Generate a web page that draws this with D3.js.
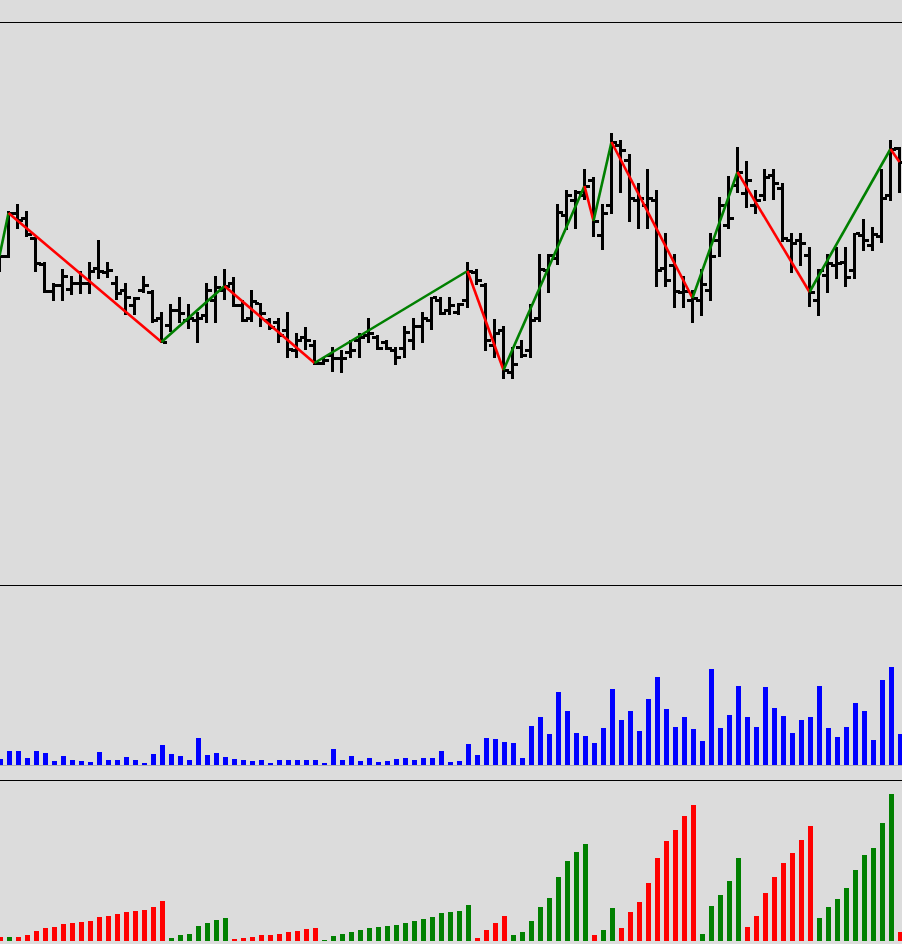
<!DOCTYPE html>
<html>
<head>
<meta charset="utf-8">
<script src="https://cdn.jsdelivr.net/npm/d3@7"></script>
<style>
  html, body { margin: 0; padding: 0; background: #dcdcdc; overflow: hidden; }
  svg { display: block; }
</style>
</head>
<body>
<div id="chart"></div>
<script>
// OHLC prices, one entry per bar (101 bars on screen)
const opens = [317,329,372,367,347,321,294,300,296,302, 302,317,313,302,295,280,295,293,267,260,
               275,265,265,270,285,295,302,280,267,282, 265,263,255,235,248,240,222,230,227,233,
               245,250,248,243,235,237,245,259,265,285, 275,273,285,313,300,240,255,213,238,235,
               267,315,327,370,385,390,405,350,380,440, 425,385,380,385,317,320,293,285,285,295,
               345,360,400,392,380,390,410,397,345,345, 330,285,310,320,323,315,350,340,349,390, 437];
const highs = [330,374,381,374,348,323,302,316,309,314, 323,345,323,309,302,288,309,295,273,281,
               288,281,273,302,309,316,308,285,295,282, 267,267,273,252,258,245,228,238,235,245,
               252,267,250,245,238,259,267,273,288,288, 288,282,323,316,302,266,259,238,245,281,
               331,331,381,395,395,416,408,381,452,445, 431,402,416,395,352,331,309,295,316,352,
               388,409,438,424,395,416,416,402,352,352, 338,316,331,338,338,352,366,358,416,445, 438];
const lows  = [313,327,356,348,313,292,284,284,290,291, 291,306,307,285,270,270,292,262,242,253,
               262,256,242,262,262,285,278,263,263,258, 255,242,227,227,235,220,220,213,212,227,
               227,242,235,235,220,227,235,242,255,270, 270,270,277,300,234,227,206,206,227,227,
               263,292,320,355,356,385,348,335,371,392, 363,356,356,298,298,277,277,262,269,284,
               328,356,392,377,371,384,385,343,312,319, 278,269,292,306,298,306,334,334,342,384, 392];
const closes = [329,372,365,351,322,294,300,309,302,302, 314,314,315,292,288,287,300,265,243,275,
                272,267,267,295,298,299,280,265,284,272, 258,250,236,245,245,222,225,227,227,235,
                248,252,237,237,228,253,259,267,288,272, 280,281,314,305,245,252,215,221,230,265,
                316,330,373,390,393,399,364,372,443,435, 387,387,387,315,305,294,294,287,301,329,
                380,367,413,405,385,408,402,347,342,342, 293,315,322,322,308,352,345,351,387,436, 423];

// Volume per bar
const volumes = [60,140,140,70,140,120,40,90,50,40, 30,130,50,50,80,50,20,110,200,110,
                 90,50,270,100,120,80,60,50,40,50, 20,50,50,50,50,50,20,160,50,90,
                 40,70,30,40,60,70,50,70,70,140, 30,40,210,100,270,260,230,220,70,390,
                 480,310,730,540,320,290,220,370,760,450, 540,340,660,880,560,380,480,360,240,960,
                 370,500,790,480,380,780,570,490,320,450, 480,790,370,280,380,620,540,250,850,980, 310];

// Cumulative volume of the current zigzag wave
const waveVolumes = [140,140,140,210,350,455,490,595,630,665, 700,840,875,945,1015,1050,1085,1190,1400,105,
                     210,245,525,630,735,805,70,105,140,210, 210,245,315,350,420,455,35,175,245,315,
                     385,455,490,525,560,630,700,770,840,980, 1015,1050,1260,105,385,630,875,210,315,700,
                     1190,1505,2240,2800,3115,3395,210,385,1155,455, 1015,1365,2030,2905,3500,3885,4375,4760,245,1225,
                     1610,2100,2905,490,875,1680,2240,2730,3080,3535, 4025,805,1190,1470,1855,2485,3010,3255,4130,5145, 315];

// Zigzag turning points (bar indexes, on closes); first and last are the screen edges
const pivots = [0, 1, 18, 25, 35, 52, 56, 65, 66, 68, 77, 82, 90, 99, 100];

const width = 902, height = 944;
const bg = '#dcdcdc';

const svg = d3.select('#chart')
  .append('svg')
  .attr('width', width)
  .attr('height', height)
  .style('background', bg);

// Scales
const x = d3.scaleLinear().domain([0, 100]).range([-0.5, 899.5]);
const yPrice = d3.scaleLinear().domain([0, 563]).range([585, 22]);
const yVol = d3.scaleLinear().domain([0, 1800]).range([765, 585]);
const yWave = d3.scaleLinear().domain([0, 5635]).range([941, 780]);

const bars = d3.range(opens.length).map(i => ({
  i: i, o: opens[i], h: highs[i], l: lows[i], c: closes[i],
  v: volumes[i], w: waveVolumes[i]
}));

// wave direction for each bar: bar belongs to the wave ending at the next pivot
function waveUp(i) {
  for (let k = 0; k < pivots.length - 1; k++) {
    if (i > pivots[k] && i <= pivots[k + 1]) {
      return closes[pivots[k + 1]] > closes[pivots[k]];
    }
  }
  return false; // bar 0 closes the previous (down) wave
}

// Panel separator lines
[22, 585, 780].forEach(yy => {
  svg.append('rect')
    .attr('x', 0).attr('y', yy)
    .attr('width', width).attr('height', 1)
    .attr('fill', '#000');
});

// Volume baseline
svg.append('rect')
  .attr('x', 0).attr('y', yVol(0))
  .attr('width', width).attr('height', 1)
  .attr('fill', '#b0b0b0');

// OHLC bars
const ohlc = svg.append('g').attr('shape-rendering', 'crispEdges').attr('fill', '#000');

ohlc.selectAll('rect.hl')
  .data(bars)
  .enter()
  .append('rect')
  .attr('class', 'hl')
  .attr('x', d => x(d.i) - 1.5)
  .attr('y', d => yPrice(d.h))
  .attr('width', 3)
  .attr('height', d => yPrice(d.l) - yPrice(d.h));

ohlc.selectAll('rect.open')
  .data(bars)
  .enter()
  .append('rect')
  .attr('class', 'open')
  .attr('x', d => x(d.i) - 5.5)
  .attr('y', d => yPrice(d.o) - 1)
  .attr('width', 4)
  .attr('height', 3);

ohlc.selectAll('rect.close')
  .data(bars)
  .enter()
  .append('rect')
  .attr('class', 'close')
  .attr('x', d => x(d.i) + 1.5)
  .attr('y', d => yPrice(d.c) - 1)
  .attr('width', 4)
  .attr('height', 3);

// Zigzag
const line = d3.line()
  .x(i => x(i))
  .y(i => yPrice(closes[i]));

d3.pairs(pivots).forEach(([a, b]) => {
  svg.append('path')
    .datum([a, b])
    .attr('d', line)
    .attr('fill', 'none')
    .attr('stroke', closes[b] > closes[a] ? '#008000' : '#ff0000')
    .attr('stroke-width', 2.6);
});

// Volume
svg.append('g')
  .attr('shape-rendering', 'crispEdges')
  .selectAll('rect')
  .data(bars)
  .enter()
  .append('rect')
  .attr('x', d => x(d.i) - 1.5)
  .attr('y', d => yVol(d.v))
  .attr('width', 5)
  .attr('height', d => yVol(0) - yVol(d.v))
  .attr('fill', '#0000ff');

// Wave volume
svg.append('g')
  .attr('shape-rendering', 'crispEdges')
  .selectAll('rect')
  .data(bars)
  .enter()
  .append('rect')
  .attr('x', d => x(d.i) - 1.5)
  .attr('y', d => yWave(d.w))
  .attr('width', 5)
  .attr('height', d => yWave(0) - yWave(d.w))
  .attr('fill', d => waveUp(d.i) ? '#008000' : '#ff0000');
</script>
</body>
</html>
